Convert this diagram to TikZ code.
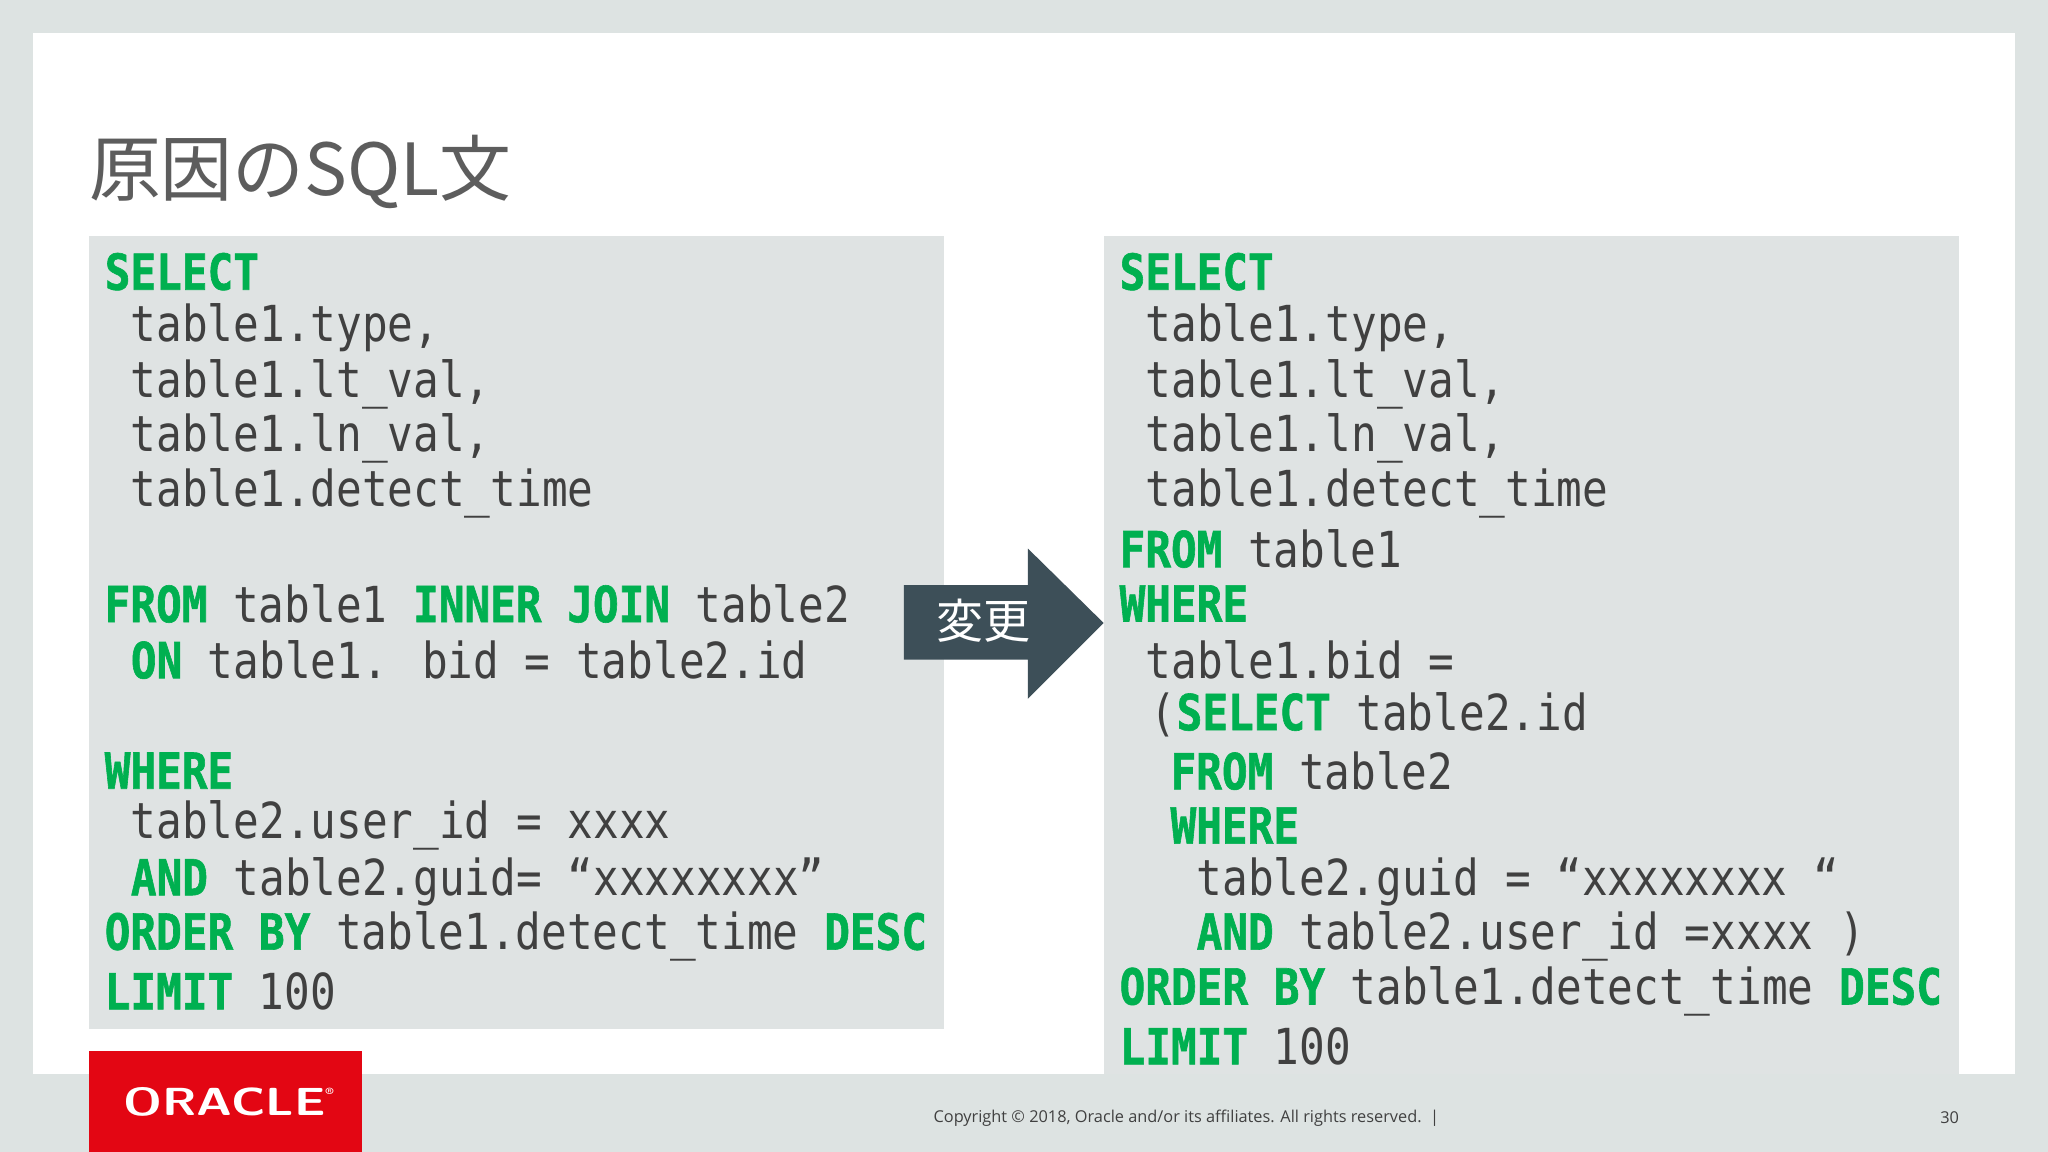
\documentclass[tikz,border=0pt]{standalone}
\usepackage{fontspec}
\newfontfamily\cjk{Noto Sans CJK JP}
\newfontfamily\codef[FakeStretch=0.86]{DejaVu Sans Mono}
\newfontfamily\codebf[FakeStretch=0.86,FakeBold=1.2]{DejaVu Sans Mono Bold}
\setmainfont{Open Sans}
\definecolor{kwg}{HTML}{00B050}
\definecolor{codebg}{HTML}{DFE3E3}
\definecolor{framebg}{HTML}{DDE3E2}
\definecolor{arrowc}{HTML}{3D4F58}
\definecolor{txt}{HTML}{404040}
\definecolor{orared}{HTML}{E30613}
\newcommand{\kw}[1]{{\codebf\color{kwg}#1}}
\tikzset{codeline/.style={anchor=west,inner sep=0pt,font=\codef\fontsize{38}{40}\selectfont,text=txt}}
\begin{document}
\begin{tikzpicture}[x=1pt,y=-1pt]
\useasboundingbox (0,0) rectangle (1568,882);
\fill[framebg] (0,0) rectangle (1568,882);
\fill[white] (25,25) rectangle (1543,822);
\node[anchor=west,inner sep=0pt,text=txt!85!white,font=\cjk\fontsize{55}{58}\selectfont] (title) at (68,132) {原因のSQL文};
\fill[codebg] (68,181) rectangle (723,788);
\fill[codebg] (845,181) rectangle (1500,822);
% arrow
\fill[arrowc] (692,448) -- (787,448) -- (787,420) -- (845,477) -- (787,535) -- (787,505) -- (692,505) -- cycle;
\node[text=white,font=\cjk\fontsize{36}{40}\selectfont,inner sep=0pt] (chg) at (753,475) {変更};
% left code
\node[codeline] (l1) at (80,208) {\kw{SELECT}};
\node[codeline] (l2) at (100,251) {table1.type,};
\node[codeline] (l3) at (100,294) {table1.lt\_val,};
\node[codeline] (l4) at (100,336) {table1.ln\_val,};
\node[codeline] (l5) at (100,378) {table1.detect\_time};
\node[codeline] (l6) at (80,462) {\kw{FROM} table1 \kw{INNER} \kw{JOIN} table2};
\node[codeline] (l7) at (100,505) {\kw{ON} table1. bid = table2.id};
\node[codeline] (l8) at (80,590) {\kw{WHERE}};
\node[codeline] (l9) at (100,632) {table2.user\_id = xxxx};
\node[codeline] (l10) at (100,675) {\kw{AND} table2.guid= “xxxxxxxx”};
\node[codeline] (l11) at (80,717) {\kw{ORDER} \kw{BY} table1.detect\_time \kw{DESC}};
\node[codeline] (l12) at (80,759) {\kw{LIMIT} 100};
% right code
\node[codeline] (r1) at (857,208) {\kw{SELECT}};
\node[codeline] (r2) at (877,251) {table1.type,};
\node[codeline] (r3) at (877,294) {table1.lt\_val,};
\node[codeline] (r4) at (877,336) {table1.ln\_val,};
\node[codeline] (r5) at (877,378) {table1.detect\_time};
\node[codeline] (r6) at (857,420) {\kw{FROM} table1};
\node[codeline] (r7) at (857,462) {\kw{WHERE}};
\node[codeline] (r8) at (877,505) {table1.bid =};
\node[codeline] (r9) at (881,547) {(\kw{SELECT} table2.id};
\node[codeline] (r10) at (896,590) {\kw{FROM} table2};
\node[codeline] (r11) at (896,632) {\kw{WHERE}};
\node[codeline] (r12) at (916,675) {table2.guid = “xxxxxxxx “};
\node[codeline] (r13) at (916,717) {\kw{AND} table2.user\_id =xxxx )};
\node[codeline] (r14) at (857,759) {\kw{ORDER} \kw{BY} table1.detect\_time \kw{DESC}};
\node[codeline] (r15) at (857,801) {\kw{LIMIT} 100};
% footer
\fill[orared] (68,805) rectangle (277,882);
\node[text=white,font=\sffamily\bfseries\fontsize{30}{32}\selectfont,inner sep=0pt,xscale=1.25] (logo) at (175,844) {ORACLE\raisebox{1.2ex}{\fontsize{7}{8}\selectfont®}};
\node[anchor=east,inner sep=0pt,text=txt,font=\fontsize{12.5}{14}\selectfont] (copy) at (1102,856) {Copyright © 2018, Oracle and/or its affiliates. All rights reserved.\ \ |};
\node[anchor=east,inner sep=0pt,text=txt,font=\fontsize{12.5}{14}\selectfont] (pg) at (1500,856) {30};
\end{tikzpicture}
\end{document}
